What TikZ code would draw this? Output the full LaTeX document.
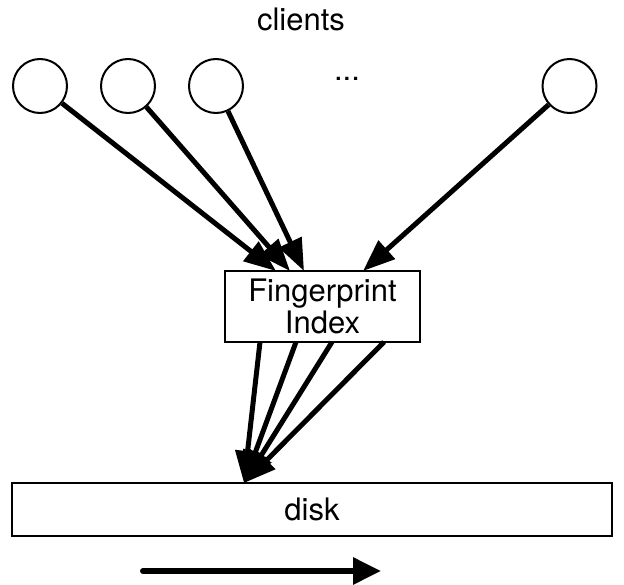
\documentclass[tikz,border=0pt]{standalone}
\usepackage{fontspec}
\setmainfont{TeX Gyre Heros}
\usetikzlibrary{arrows.meta}
\begin{document}
\begin{tikzpicture}[x=1pt,y=-1pt,
  client/.style={circle,draw,line width=2pt,minimum size=54pt,inner sep=0pt},
  flow/.style={line width=5pt,-{Triangle[length=32pt,width=24pt]}},
  box/.style={draw,line width=1.5pt,inner sep=0pt,align=center},
  lbl/.style={font=\fontsize{31}{32}\selectfont}]
\useasboundingbox (0,0) rectangle (624,584);

% labels
\node[lbl] (title) at (301,19) {clients};
\node[lbl] (dots) at (347,79) {...};

% clients
\node[client] (c1) at (40,86) {};
\node[client] (c2) at (128,86) {};
\node[client] (c3) at (216,86) {};
\node[client] (c4) at (569.5,86) {};

% index and disk
\node[box,lbl,minimum width=195pt,minimum height=71pt] (fp) at (322.5,306.5) {Fingerprint\\Index};
\node[box,lbl,minimum width=600pt,minimum height=53pt] (disk) at (312,509.5) {disk};

% arrow end points on the index
\coordinate (t1) at (276,271);
\coordinate (t2) at (290,271);
\coordinate (t3) at (304,271);
\coordinate (t4) at (363,271);

\draw[flow] (c1) -- (t1);
\draw[flow] (c2) -- (t2);
\draw[flow] (c3) -- (t3);
\draw[flow] (c4) -- (t4);

% writes from the index to the disk
\coordinate (b1) at (260,342);
\coordinate (b2) at (296,342);
\coordinate (b3) at (332,342);
\coordinate (b4) at (384,342);
\coordinate (d) at (244,483);
\foreach \b in {b1,b2,b3,b4}
  \draw[flow] (\b) -- (d);

% sequential direction
\coordinate (s0) at (143,571);
\coordinate (s1) at (381,571);
\draw[line width=6pt,line cap=round,-{Triangle[length=28pt,width=26pt]}] (s0) -- (s1);
\end{tikzpicture}
\end{document}
